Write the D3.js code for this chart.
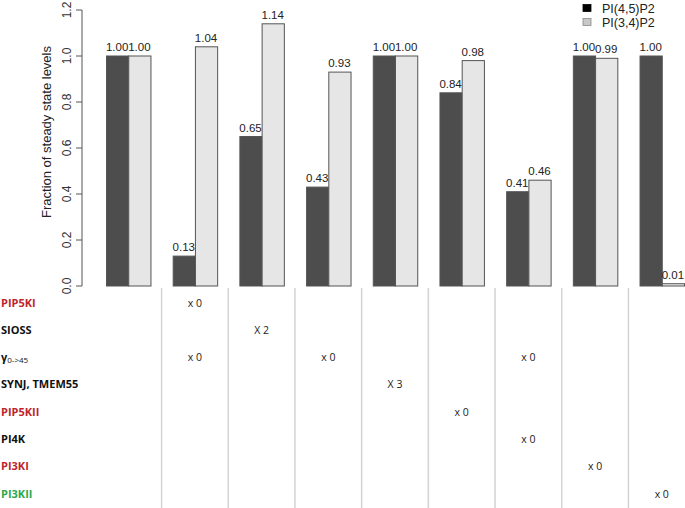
<!DOCTYPE html>
<html>
<head>
<meta charset="utf-8">
<script src="https://cdn.jsdelivr.net/npm/d3@7/dist/d3.min.js"></script>
<style>
  html, body { margin: 0; padding: 0; background: #fff; }
  svg { display: block; }
</style>
</head>
<body>
<svg id="chart" width="685" height="508"></svg>
<script>
const groups = ["g1","g2","g3","g4","g5","g6","g7","g8","g9"];
const seriesNames = ["PI(4,5)P2", "PI(3,4)P2"];
const pi45 = [1.00, 0.13, 0.65, 0.43, 1.00, 0.84, 0.41, 1.00, 1.00];
const pi34 = [1.00, 1.04, 1.14, 0.93, 1.00, 0.98, 0.46, 0.99, 0.01];
const yTicks = [0, 0.2, 0.4, 0.6, 0.8, 1.0, 1.2];
const rowLabels = ["PIP5KI", "SIOSS", "γ", "SYNJ, TMEM55", "PIP5KII", "PI4K", "PI3KI", "PI3KII"];
const rowKinds = ["red", "black", "black", "black", "red", "black", "red", "green"];
// cells: [group index, row index, text]
const cells = [
  [1, 0, "x 0"], [2, 1, "X 2"], [1, 2, "x 0"], [3, 2, "x 0"],
  [4, 3, "X 3"], [5, 4, "x 0"], [6, 2, "x 0"], [6, 5, "x 0"],
  [7, 6, "x 0"], [8, 7, "x 0"]
];

const colorsSeries = ["#4d4d4d", "#e6e6e6"];
const rowColor = { red: "#c0232b", black: "#111", green: "#2ea84a" };

const svg = d3.select("#chart");
const x = d3.scaleBand().domain(groups).range([106, 684]).paddingInner(1/3).paddingOuter(0);
const xs = d3.scaleBand().domain(seriesNames).range([0, x.bandwidth()]).padding(0);
const y = d3.scaleLinear().domain([0, 1.2]).range([286, 10]);

const data = groups.map((g, i) => ({ g, vals: [pi45[i], pi34[i]] }));

// Separator lines in table (midway between groups)
const gap = x.step() - x.bandwidth();
const sep = groups.slice(1).map(g => x(g) - gap / 2);
svg.append("g").selectAll("line").data(sep).join("line")
  .attr("x1", d => d).attr("x2", d => d).attr("y1", 288).attr("y2", 508)
  .attr("stroke", "#d3d3d3").attr("stroke-width", 1.5);

// Bars
const gg = svg.append("g").selectAll("g").data(data).join("g")
  .attr("transform", d => `translate(${x(d.g)},0)`);
gg.selectAll("rect").data(d => d.vals.map((v, j) => ({ v, s: seriesNames[j], j })))
  .join("rect")
  .attr("x", d => xs(d.s) + 0.5)
  .attr("y", d => y(d.v))
  .attr("width", xs.bandwidth())
  .attr("height", d => y(0) - y(d.v))
  .attr("fill", d => colorsSeries[d.j])
  .attr("stroke", "#555")
  .attr("stroke-width", 1);
gg.selectAll("text").data(d => d.vals.map((v, j) => ({ v, s: seriesNames[j], j })))
  .join("text")
  .attr("x", d => xs(d.s) + xs.bandwidth() / 2)
  .attr("y", d => y(d.v) - 5)
  .attr("text-anchor", "middle")
  .attr("font-family", "Liberation Sans, Arial, sans-serif")
  .attr("font-size", 11.5)
  .attr("fill", "#222")
  .text(d => d.v.toFixed(2));

// Y axis
const ya = svg.append("g").attr("transform", "translate(82,0)");
ya.append("line").attr("x1", 0).attr("x2", 0).attr("y1", y(1.2)).attr("y2", y(0))
  .attr("stroke", "#555").attr("stroke-width", 1);
ya.selectAll("line.tick").data(yTicks).join("line").attr("class", "tick")
  .attr("x1", -6).attr("x2", 0).attr("y1", d => y(d)).attr("y2", d => y(d))
  .attr("stroke", "#555");
ya.selectAll("text").data(yTicks).join("text")
  .attr("transform", d => `translate(-11,${y(d)}) rotate(-90)`)
  .attr("text-anchor", "middle")
  .attr("font-family", "Liberation Sans, Arial, sans-serif")
  .attr("font-size", 12)
  .attr("fill", "#333")
  .text(d => d.toFixed(1));
svg.append("text")
  .attr("transform", "translate(51,132) rotate(-90)")
  .attr("text-anchor", "middle")
  .attr("font-family", "Liberation Sans, Arial, sans-serif")
  .attr("font-size", 13)
  .attr("fill", "#222")
  .text("Fraction of steady state levels");

// Legend
const lg = svg.append("g");
seriesNames.forEach((s, i) => {
  lg.append("rect").attr("x", 583).attr("y", 4.5 + i * 14).attr("width", 8).attr("height", 7)
    .attr("fill", i === 0 ? "#000" : "#c8c8c8").attr("stroke", i === 0 ? "#000" : "#888").attr("stroke-width", 0.8);
  lg.append("text").attr("x", 602).attr("y", 12.5 + i * 14)
    .attr("font-family", "Liberation Sans, Arial, sans-serif").attr("font-size", 12.5)
    .attr("fill", "#222").text(s);
});

// Row labels
const rowY = d3.scalePoint().domain(d3.range(rowLabels.length)).range([302.5, 493.5]);
const rl = svg.append("g");
rowLabels.forEach((t, i) => {
  const tx = rl.append("text").attr("x", 1).attr("y", rowY(i) + 4)
    .attr("font-family", "Liberation Sans Narrow, Open Sans, sans-serif").attr("font-weight", 700)
    .attr("font-size", 11).attr("fill", rowColor[rowKinds[i]]);
  tx.append("tspan").text(t);
  if (t === "γ") {
    tx.append("tspan").attr("font-size", 8).attr("font-weight", 400).attr("dy", 2).text("0->45");
  }
});

// Cells
svg.append("g").selectAll("text").data(cells).join("text")
  .attr("x", d => x(groups[d[0]]) + x.bandwidth() / 2)
  .attr("y", d => rowY(d[1]) + 4)
  .attr("text-anchor", "middle")
  .attr("font-family", "Open Sans, sans-serif")
  .attr("font-size", 10.5)
  .attr("fill", "#222")
  .text(d => d[2]);
</script>
</body>
</html>
